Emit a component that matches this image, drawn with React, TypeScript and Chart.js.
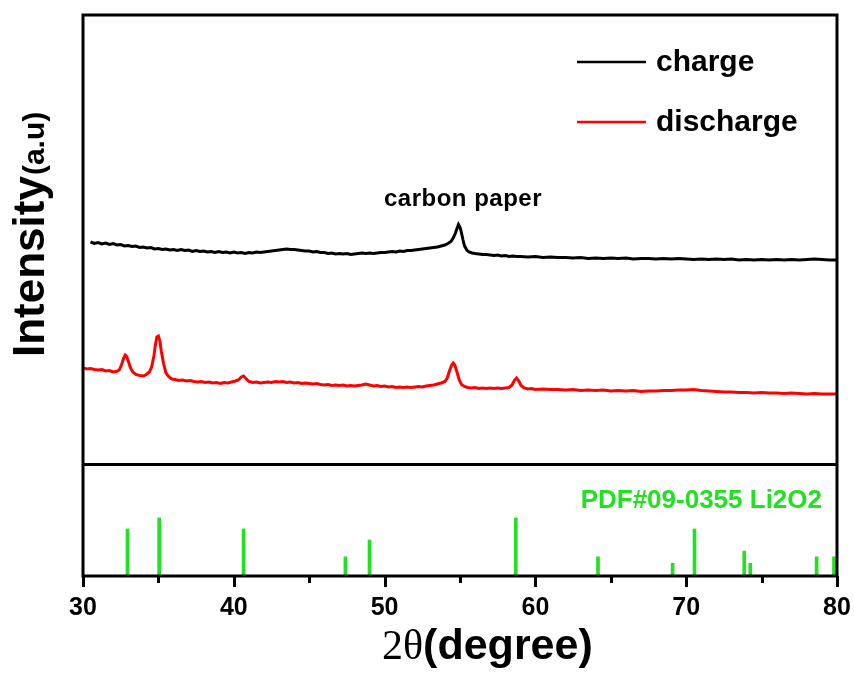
import React, { useEffect, useRef } from "react";
import { Chart, registerables } from "chart.js";

Chart.register(...registerables);

// ---------- data (2θ in degrees, intensity in a.u.) ----------
const chargeLabel = "charge";
const dischargeLabel = "discharge";
const refLabel = "PDF#09-0355 Li2O2";
const annotationText = "carbon paper";
const annotationAt: [number, number] = [55.2, 258];

const chargeData: [number, number][] = [
  [30.5, 222], [30.75, 220.5], [31.0, 221.5], [31.25, 220], [31.5, 221], [31.75, 219.5],
  [32.0, 220.5], [32.25, 219], [32.5, 219.5], [32.75, 218], [33.0, 218.5], [33.25, 217.5],
  [33.5, 218], [33.75, 216.5], [34.0, 217], [34.25, 216], [34.5, 216.5], [34.75, 215],
  [35.0, 215.5], [35.25, 214.5], [35.5, 215], [35.75, 214], [36.0, 214.5], [36.25, 213.5],
  [36.5, 214.5], [36.75, 213.5], [37.0, 214], [37.25, 212.5], [37.5, 213.5], [37.75, 212.5],
  [38.0, 213], [38.25, 212], [38.5, 212.5], [38.75, 211.5], [39.0, 212.5], [39.25, 211.5],
  [39.5, 212], [39.75, 211], [40.0, 212], [40.25, 211], [40.5, 211.5], [40.75, 210.5],
  [41.0, 211.5], [41.25, 211], [41.5, 212], [41.75, 211.5], [42.0, 212], [42.25, 212.5],
  [42.5, 213], [42.75, 213.5], [43.0, 214], [43.25, 214.5], [43.5, 215], [43.75, 214.5],
  [44.0, 214.5], [44.25, 214], [44.5, 213.5], [44.75, 213], [45.0, 213], [45.25, 212],
  [45.5, 212.5], [45.75, 211.5], [46.0, 211.5], [46.25, 210.5], [46.5, 211], [46.75, 210],
  [47.0, 210.5], [47.25, 210], [47.5, 210.5], [47.75, 209.5], [48.0, 210], [48.25, 210.5],
  [48.5, 211], [48.75, 210.5], [49.0, 211], [49.25, 210.5], [49.5, 211], [49.75, 211.5],
  [50.0, 211.5], [50.25, 212], [50.5, 212.5], [50.75, 212], [51.0, 213], [51.25, 212.5],
  [51.5, 213.5], [51.75, 213.5], [52.0, 214], [52.25, 214.5], [52.5, 215], [52.75, 215.5],
  [53.0, 216], [53.25, 216.5], [53.5, 217], [53.75, 218], [54.0, 219], [54.2, 220.5],
  [54.4, 222.5], [54.55, 226], [54.7, 231], [54.8, 235.5], [54.9, 239.5], [55.0, 237],
  [55.1, 231], [55.2, 224], [55.3, 218], [55.45, 214], [55.6, 212], [55.8, 211],
  [56.0, 210.5], [56.25, 210], [56.5, 209.5], [56.75, 209.5], [57.0, 209], [57.25, 208.5],
  [57.5, 209], [57.75, 208], [58.0, 208.5], [58.25, 207.5], [58.5, 208], [58.75, 207.5],
  [59.0, 207.5], [59.5, 207], [60.0, 207.5], [60.5, 206.5], [61.0, 207], [61.5, 206.5],
  [62.0, 206.5], [62.5, 206], [63.0, 206.5], [63.5, 205.5], [64.0, 206], [64.5, 205.5],
  [65.0, 206], [65.5, 205.5], [66.0, 206], [66.5, 205], [67.0, 205.5], [67.5, 205.5],
  [68.0, 205], [68.5, 205.5], [69.0, 205], [69.5, 205.5], [70.0, 205], [70.5, 204.5],
  [71.0, 205], [71.5, 204.5], [72.0, 205], [72.5, 204.5], [73.0, 205], [73.5, 204],
  [74.0, 204.5], [74.5, 204], [75.0, 204.5], [75.5, 204], [76.0, 204.5], [76.5, 204],
  [77.0, 204.5], [77.5, 204], [78.0, 204.5], [78.5, 205], [79.0, 204.5], [79.5, 204],
  [80.0, 204],
];

const dischargeData: [number, number][] = [
  [30.0, 96], [30.25, 95], [30.5, 95.5], [30.75, 94.5], [31.0, 94], [31.25, 94.5],
  [31.5, 93], [31.75, 93.5], [32.0, 92], [32.2, 92.5], [32.4, 94], [32.55, 99],
  [32.7, 106], [32.8, 109], [32.9, 107.5], [33.0, 103], [33.15, 96], [33.3, 92],
  [33.5, 89.5], [33.75, 88.5], [34.0, 88], [34.2, 89.5], [34.4, 92], [34.55, 97],
  [34.7, 108], [34.8, 119], [34.9, 127], [35.0, 128], [35.1, 123], [35.2, 112],
  [35.35, 100], [35.5, 91], [35.7, 87], [35.9, 85], [36.1, 84.5], [36.35, 83.5],
  [36.6, 84], [36.85, 83], [37.1, 83.5], [37.35, 82.5], [37.6, 82], [37.85, 82.5],
  [38.1, 81.5], [38.35, 82], [38.6, 81], [38.85, 81.5], [39.1, 80.5], [39.35, 81.5],
  [39.6, 81], [39.85, 82], [40.1, 83], [40.3, 84], [40.5, 87], [40.65, 88],
  [40.8, 85.5], [41.0, 82.5], [41.25, 81.5], [41.5, 82], [41.75, 81], [42.0, 81.5],
  [42.25, 82], [42.5, 81.5], [42.75, 82.5], [43.0, 82], [43.25, 82.5], [43.5, 81.5],
  [43.75, 82], [44.0, 81], [44.25, 81.5], [44.5, 80.5], [44.75, 81], [45.0, 80.5],
  [45.25, 80], [45.5, 80.5], [45.75, 79.5], [46.0, 79], [46.25, 79.5], [46.5, 78.5],
  [46.75, 79], [47.0, 78.5], [47.25, 79], [47.5, 78], [47.75, 78.5], [48.0, 78],
  [48.25, 78.5], [48.5, 79], [48.75, 80], [49.0, 79], [49.25, 78], [49.5, 78.5],
  [49.75, 77.5], [50.0, 78], [50.25, 77], [50.5, 77.5], [50.75, 76.5], [51.0, 77],
  [51.25, 76.5], [51.5, 77], [51.75, 76.5], [52.0, 77], [52.25, 77.5], [52.5, 77],
  [52.75, 78], [53.0, 78.5], [53.25, 79], [53.5, 80], [53.75, 81], [54.0, 82.5],
  [54.15, 86], [54.3, 93], [54.45, 99], [54.55, 101], [54.65, 99], [54.8, 92],
  [54.95, 84], [55.1, 79.5], [55.3, 77.5], [55.5, 76.5], [55.75, 76], [56.0, 76.5],
  [56.25, 75.5], [56.5, 76], [56.75, 75.5], [57.0, 76], [57.25, 75.5], [57.5, 76],
  [57.75, 75.5], [58.0, 76], [58.25, 76.5], [58.45, 79], [58.6, 83.5], [58.75, 86],
  [58.9, 83], [59.05, 78.5], [59.25, 76], [59.5, 75], [59.75, 75.5], [60.0, 74.5],
  [60.5, 75], [61.0, 74.5], [61.5, 74.5], [62.0, 74], [62.5, 74.5], [63.0, 73.5],
  [63.5, 74], [64.0, 73.5], [64.5, 74], [65.0, 73], [65.5, 73.5], [66.0, 73],
  [66.5, 73.5], [67.0, 72.5], [67.5, 73], [68.0, 73], [68.5, 73.5], [69.0, 73.5],
  [69.5, 74], [70.0, 74], [70.5, 74.5], [71.0, 73.5], [71.5, 73], [72.0, 72.5],
  [72.5, 72], [73.0, 72], [73.5, 71.5], [74.0, 71.5], [74.5, 71], [75.0, 71.5],
  [75.5, 71], [76.0, 71], [76.5, 70.5], [77.0, 71], [77.5, 70.5], [78.0, 70],
  [78.5, 70.5], [79.0, 70], [79.5, 70], [80.0, 70],
];

const refPeaks = [32.95, 35.05, 40.65, 47.4, 49.0, 58.7, 64.15, 69.1, 70.55, 73.85, 74.25, 78.65, 79.8];
const refIntensity = [81, 100, 81, 33, 62, 100, 33, 22, 81, 43, 22, 33, 33];

const xMin = 30;
const xMax = 80;
const xStep = 10;

// ---------- styles ----------
const SANS = "'Liberation Sans', Arial, Helvetica, sans-serif";
const SERIF = "'Liberation Serif', 'Times New Roman', serif";
const GREEN = "#22e022";

const decorPlugin = {
  id: "decor",
  afterDatasetsDraw(chart: any) {
    const { ctx, chartArea: a, scales } = chart;
    ctx.save();
    ctx.strokeStyle = "#000";
    ctx.lineWidth = 3;
    ctx.lineCap = "butt";
    // frame
    ctx.strokeRect(a.left, a.top, a.right - a.left, a.bottom - a.top);
    // divider between panels
    const yd = Math.round(scales.y2.top) + 0.5;
    ctx.beginPath();
    ctx.moveTo(a.left, yd);
    ctx.lineTo(a.right, yd);
    ctx.stroke();
    // major and minor ticks (outward)
    const xs = scales.x;
    const t = xs.ticks;
    for (let i = 0; i < t.length; i++) {
      const px = Math.round(xs.getPixelForValue(t[i].value)) + 0.5;
      ctx.beginPath();
      ctx.moveTo(px, a.bottom);
      ctx.lineTo(px, a.bottom + 11);
      ctx.stroke();
      if (i < t.length - 1) {
        const mid = (t[i].value + t[i + 1].value) / 2;
        const pm = Math.round(xs.getPixelForValue(mid)) + 0.5;
        ctx.beginPath();
        ctx.moveTo(pm, a.bottom);
        ctx.lineTo(pm, a.bottom + 7);
        ctx.stroke();
      }
    }
    ctx.restore();
  },
  afterDraw(chart: any) {
    const { ctx, scales } = chart;
    ctx.save();
    // legend
    const ds = chart.data.datasets.filter((d: any) => d.showInLegend);
    ds.forEach((d: any, i: number) => {
      const y = 62 + i * 60;
      ctx.strokeStyle = d.borderColor;
      ctx.lineWidth = 2.5;
      ctx.beginPath();
      ctx.moveTo(577, y);
      ctx.lineTo(646, y);
      ctx.stroke();
      ctx.fillStyle = "#000";
      ctx.font = `bold 30px ${SANS}`;
      ctx.textAlign = "left";
      ctx.textBaseline = "alphabetic";
      ctx.fillText(d.label, 656, y + 9);
    });
    // annotation
    ctx.fillStyle = "#000";
    ctx.font = `bold 24px ${SANS}`;
    (ctx as any).letterSpacing = "0.5px";
    ctx.textAlign = "center";
    ctx.textBaseline = "alphabetic";
    ctx.fillText(
      annotationText,
      scales.x.getPixelForValue(annotationAt[0]),
      scales.y.getPixelForValue(annotationAt[1])
    );
    (ctx as any).letterSpacing = "0px";
    // reference label
    ctx.fillStyle = GREEN;
    ctx.font = `bold 26px ${SANS}`;
    ctx.textAlign = "right";
    ctx.fillText(refLabel, 822, 508);
    // x title: 2θ(degree)
    ctx.fillStyle = "#000";
    ctx.textAlign = "left";
    ctx.font = `42px ${SERIF}`;
    const p1 = "2θ";
    const w1 = ctx.measureText(p1).width;
    const x0 = 382;
    ctx.fillText(p1, x0, 659);
    ctx.font = `bold 43px ${SANS}`;
    ctx.fillText("(degree)", x0 + w1, 659);
    // y title: Intensity(a.u)
    ctx.translate(44, 357);
    ctx.rotate(-Math.PI / 2);
    ctx.font = `bold 44px ${SANS}`;
    const q1 = "Intensity";
    ctx.fillText(q1, 0, 0);
    const wq = ctx.measureText(q1).width;
    ctx.font = `bold 30px ${SANS}`;
    ctx.fillText("(a.u)", wq + 1, 0);
    ctx.restore();
  },
};

export default function App() {
  const ref = useRef<HTMLCanvasElement | null>(null);

  useEffect(() => {
    if (!ref.current) return;
    const chart = new Chart(ref.current, {
      type: "line",
      data: {
        datasets: [
          {
            type: "line",
            label: chargeLabel,
            data: chargeData.map(([x, y]) => ({ x, y })),
            borderColor: "#000000",
            borderWidth: 3,
            pointRadius: 0,
            tension: 0,
            yAxisID: "y",
            showInLegend: true,
          } as any,
          {
            type: "line",
            label: dischargeLabel,
            data: dischargeData.map(([x, y]) => ({ x, y })),
            borderColor: "#ff0000",
            borderWidth: 3,
            pointRadius: 0,
            tension: 0,
            yAxisID: "y",
            showInLegend: true,
          } as any,
          {
            type: "bar",
            label: refLabel,
            data: refPeaks.map((x, i) => ({ x, y: refIntensity[i] })),
            backgroundColor: GREEN,
            borderWidth: 0,
            barThickness: 3,
            grouped: false,
            yAxisID: "y2",
          } as any,
        ],
      },
      options: {
        animation: false,
        responsive: false,
        maintainAspectRatio: false,
        layout: { padding: { top: 15, left: 83, right: 17, bottom: 47 } },
        plugins: {
          legend: { display: false },
          tooltip: { enabled: false },
        },
        scales: {
          x: {
            type: "linear",
            min: xMin,
            max: xMax,
            offset: false,
            afterFit: (s: any) => {
              s.height = 50;
            },
            ticks: {
              stepSize: xStep,
              color: "#000",
              font: { family: SANS, size: 25, weight: "bold" },
              padding: 3,
              maxRotation: 0,
            },
            grid: {
              display: true,
              offset: false,
              drawOnChartArea: false,
              drawTicks: true,
              tickLength: 14,
              lineWidth: 0,
              color: "rgba(0,0,0,0)",
              tickColor: "rgba(0,0,0,0)",
            },
            border: { display: false },
          },
          y: {
            type: "linear",
            position: "left",
            stack: "panels",
            stackWeight: 449,
            weight: 2,
            min: 0,
            max: 449,
            afterFit: (s: any) => {
              s.width = 0;
            },
            ticks: { display: false },
            grid: { display: false, drawTicks: false },
            border: { display: false },
          },
          y2: {
            type: "linear",
            position: "left",
            stack: "panels",
            stackWeight: 112,
            weight: 1,
            min: 0,
            max: 193,
            afterFit: (s: any) => {
              s.width = 0;
            },
            ticks: { display: false },
            grid: { display: false, drawTicks: false },
            border: { display: false },
          },
        },
      } as any,
      plugins: [decorPlugin],
    });
    return () => chart.destroy();
  }, []);

  return (
    <div style={{ position: "absolute", left: 0, top: 0, width: 854, height: 673, background: "#fff" }}>
      <canvas ref={ref} width={854} height={673} style={{ display: "block", width: 854, height: 673 }} />
    </div>
  );
}
